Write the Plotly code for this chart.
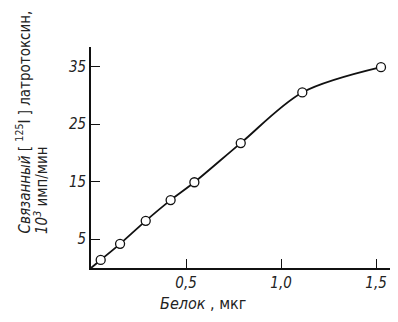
import plotly.graph_objects as go

protein = [0.051, 0.153, 0.288, 0.419, 0.544, 0.788, 1.112, 1.526]
bound = [1.4, 4.2, 8.2, 11.8, 14.9, 21.7, 30.5, 34.9]
curve_x = [0.0] + protein
curve_y = [0.0] + bound
xticks = [0.5, 1.0, 1.5]
xticklabels = ["0,5", "1,0", "1,5"]
yticks = [5, 15, 25, 35]

FONT = "Liberation Sans Narrow, DejaVu Sans Condensed, Arial Narrow, sans-serif"

# the page body adds an 8px offset; plot area targets window px 91..396 x 47..268
L, T = 83, 39
PW, PH = 305, 221

fig = go.Figure()
fig.add_trace(go.Scatter(x=curve_x, y=curve_y, mode="lines",
                         line=dict(color="#111", width=1.8, shape="spline", smoothing=0.9),
                         hoverinfo="skip"))
fig.add_trace(go.Scatter(x=protein, y=bound, mode="markers",
                         marker=dict(symbol="circle", size=9, color="white",
                                     line=dict(color="#111", width=1.3))))

fig.update_layout(
    width=398, height=322,
    margin=dict(l=L, r=398 - L - PW, t=T, b=322 - T - PH),
    paper_bgcolor="white", plot_bgcolor="white",
    showlegend=False,
    font=dict(family=FONT, color="#222", size=14),
    xaxis=dict(range=[0, 1.605], showgrid=False, zeroline=False,
               showline=True, linecolor="#111", linewidth=1.6,
               tickvals=xticks, ticktext=["<i>%s</i>" % t for t in xticklabels],
               ticks="inside", ticklen=9, tickcolor="#111", tickwidth=1.3,
               tickfont=dict(size=15, family=FONT)),
    yaxis=dict(range=[0, 38.4], showgrid=False, zeroline=False,
               showline=True, linecolor="#111", linewidth=1.6,
               tickvals=yticks, ticktext=["<i>%d</i>" % t for t in yticks],
               ticks="inside", ticklen=9, tickcolor="#111", tickwidth=1.3,
               tickfont=dict(size=15, family=FONT)),
)

fig.add_annotation(text="<i>Белок</i> , мкг", xref="paper", yref="paper",
                   x=(203 - 91) / PW, y=(268 - 303) / PH, xanchor="center", yanchor="middle",
                   showarrow=False, font=dict(size=16, family=FONT))
fig.add_annotation(text="<i>Связанный</i> [ <sup>125</sup>I ] латротоксин,", xref="paper", yref="paper",
                   x=(23 - 91) / PW, y=(268 - 236) / PH, xanchor="center", yanchor="bottom",
                   textangle=-90, showarrow=False, font=dict(size=15, family=FONT))
fig.add_annotation(text="<i>10<sup>3</sup></i> имп/мин", xref="paper", yref="paper",
                   x=(41 - 91) / PW, y=(268 - 236) / PH, xanchor="center", yanchor="bottom",
                   textangle=-90, showarrow=False, font=dict(size=15, family=FONT))

fig.write_html("out.html")
